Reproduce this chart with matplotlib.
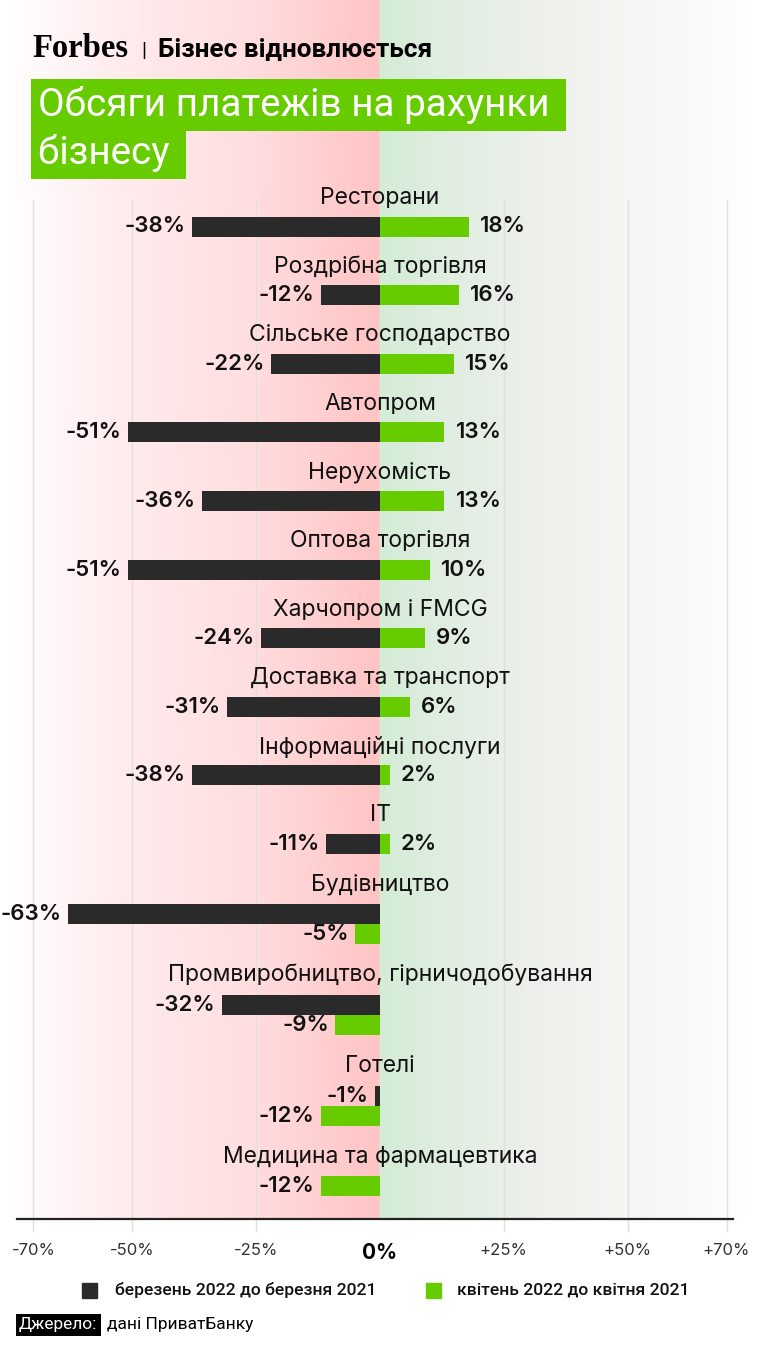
import numpy as np
import matplotlib.pyplot as plt
from matplotlib.lines import Line2D
from matplotlib.patches import Rectangle

# data
categories = ["Ресторани", "Роздрібна торгівля", "Сільське господарство", "Автопром",
              "Нерухомість", "Оптова торгівля", "Харчопром і FMCG", "Доставка та транспорт",
              "Інформаційні послуги", "IT", "Будівництво",
              "Промвиробництво, гірничодобування", "Готелі", "Медицина та фармацевтика"]
march = [-38, -12, -22, -51, -36, -51, -24, -31, -38, -11, -63, -32, -1, None]
april = [18, 16, 15, 13, 13, 10, 9, 6, 2, 2, -5, -9, -12, -12]
ticks = [-70, -50, -25, 0, 25, 50, 70]
tick_labels = ["-70%", "-50%", "-25%", "0%", "+25%", "+50%", "+70%"]
legend_labels = ["березень 2022 до березня 2021", "квітень 2022 до квітня 2021"]

W, H = 764, 1354
BLACK = "#2a2a2a"
GREEN = "#66cc00"

fig = plt.figure(figsize=(W / 100, H / 100), dpi=100)
fig.patch.set_facecolor("white")


def fx(px):
    return px / W


def fy(py):
    return 1 - py / H


# background gradient (pink left of zero, green/grey right)
bg = fig.add_axes([fx(15), fy(1219), fx(743) - fx(15), 1219 / H], zorder=0)
bg.axis("off")
xs = np.linspace(15, 743, 729)
stops_x = [15, 120, 250, 379, 380, 470, 580, 743]
stops_c = np.array([[255, 253, 253], [255, 236, 238], [255, 222, 224], [255, 196, 196],
                    [212, 236, 214], [228, 238, 228], [242, 242, 239], [255, 253, 253]]) / 255
grad = np.stack([np.interp(xs, stops_x, stops_c[:, i]) for i in range(3)], axis=-1)
bg.imshow(grad[None, :, :], aspect="auto", extent=[0, 1, 0, 1], interpolation="bilinear")
bg.set_xlim(0, 1)
bg.set_ylim(0, 1)

ax = fig.add_axes([fx(15), fy(1219), fx(745) - fx(15), 1219 / H], zorder=1)
ax.patch.set_alpha(0)
span = (380 - 15) / 4.95
ax.set_xlim(-span, span)
ax.set_ylim(1219, 0)
for s in ax.spines.values():
    s.set_visible(False)
ax.set_yticks([])

for t in ticks:
    if t != 0:
        ax.plot([t, t], [200, 1231], color="#e2e0de", lw=1, zorder=0, clip_on=False)

ax.set_xticks(ticks, tick_labels)
ax.tick_params(axis="x", length=0, pad=17, labelsize=12, labelcolor="#333333")
for lab in ax.get_xticklabels():
    lab.set_fontfamily("Inter")
    if lab.get_text() == "0%":
        lab.set_fontweight("bold")
        lab.set_fontsize(15)
        lab.set_color("black")

fig.add_artist(Line2D([fx(17), fx(733)], [fy(1219), fy(1219)], color="#222222", lw=1.6))

# bars
bh = 20
y = 198
lab_font = dict(family="Inter", fontsize=16.5, color="#111111")
val_font = dict(family="Inter", fontsize=16, fontweight="semibold", color="#111111")


def value_label(v, yc):
    if v < 0:
        ax.annotate(f"{v}%", (v, yc), xytext=(-4.5, 0), textcoords="offset points",
                    ha="right", va="center", **val_font)
    else:
        ax.annotate(f"{v}%", (v, yc), xytext=(8, 0), textcoords="offset points",
                    ha="left", va="center", **val_font)


for cat, m, a in zip(categories, march, april):
    ax.text(0, y, cat, ha="center", va="center", **lab_font)
    if m is None:
        b = y + 29
        ax.barh(b, a, height=bh, color=GREEN)
        value_label(a, b)
        y = b + 39.2
    elif m < 0 and a < 0:
        b = y + 29.5
        ax.barh(b, m, height=bh, color=BLACK)
        ax.barh(b + 20.5, a, height=bh, color=GREEN)
        value_label(m, b)
        value_label(a, b + 20.5)
        y = b + 20.5 + 41
    else:
        b = y + 28.5
        ax.barh(b, m, height=bh, color=BLACK)
        ax.barh(b, a, height=bh, color=GREEN)
        value_label(m, b)
        value_label(a, b)
        y = b + 40.1

# header
fig.text(fx(32), fy(57), "Forbes", family="Liberation Serif", fontweight="bold",
         fontsize=23.5, color="black", va="baseline")
fig.text(fx(141), fy(57), "|", family="Roboto", fontsize=15, color="black", va="baseline")
fig.text(fx(158), fy(57), "Бізнес відновлюється", family="Roboto", fontweight="bold",
         fontsize=18.8, color="black", va="baseline")

title_box = dict(boxstyle="square,pad=0.17", facecolor=GREEN, edgecolor="none")
fig.text(fx(38), fy(105), "Обсяги платежів на рахунки ", family="Roboto", fontsize=27.8,
         color="white", va="center", bbox=title_box)
fig.text(fx(38), fy(153), "бізнесу ", family="Roboto", fontsize=27.8,
         color="white", va="center", bbox=title_box)

# legend
for sx, tx, col, txt in [(82, 115, BLACK, legend_labels[0]), (426, 457, GREEN, legend_labels[1])]:
    fig.add_artist(Rectangle((fx(sx), fy(1298)), 15 / W, 15 / H, color=col))
    fig.text(fx(tx), fy(1290), txt, family="Roboto", fontweight="medium", fontsize=12.6,
             color="#111111", va="center")

# source
fig.text(fx(19), fy(1325), "Джерело:", family="Roboto", fontsize=12.5, color="white",
         va="center", bbox=dict(boxstyle="square,pad=0.2", facecolor="black", edgecolor="none"))
fig.text(fx(107), fy(1325), "дані ПриватБанку", family="Roboto", fontsize=12.5,
         color="black", va="center")

fig.savefig("out.png", dpi=100)
